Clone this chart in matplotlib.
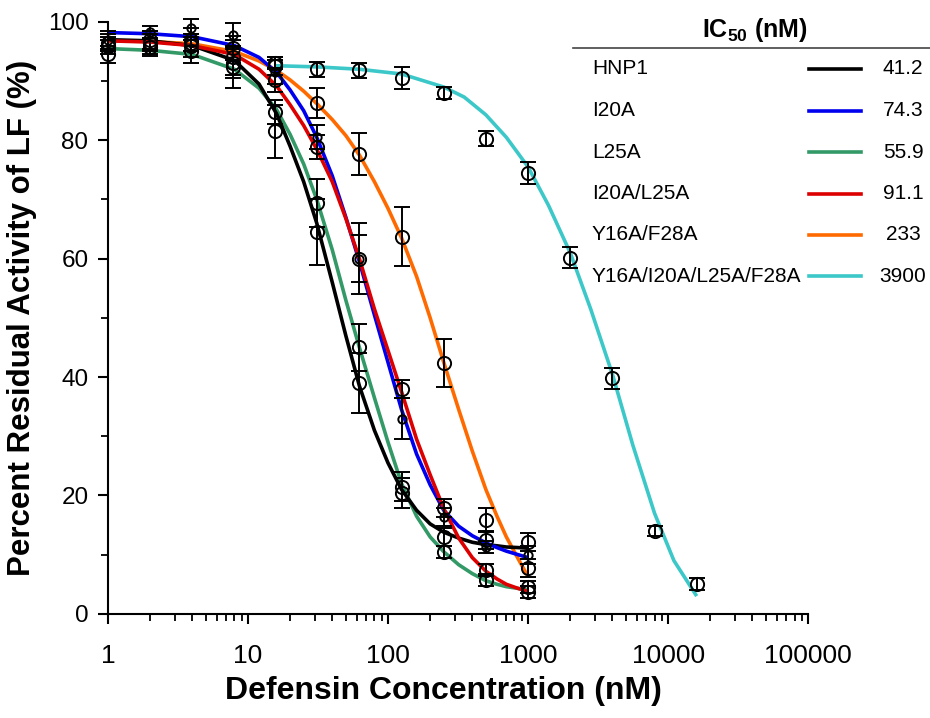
import matplotlib
matplotlib.use('Agg')
import matplotlib.pyplot as plt
from matplotlib.lines import Line2D

plt.rcParams['font.family'] = ['Liberation Sans', 'DejaVu Sans']
plt.rcParams['mathtext.fontset'] = 'custom'
plt.rcParams['mathtext.rm'] = 'Liberation Sans'
plt.rcParams['mathtext.bf'] = 'Liberation Sans:bold'

# series names, IC50 values and colours
names = ['HNP1', 'I20A', 'L25A', 'I20A/L25A', 'Y16A/F28A', 'Y16A/I20A/L25A/F28A']
ic50 = ['41.2', '74.3', '55.9', '91.1', '233', '3900']
colors = ['#000000', '#0000ee', '#339966', '#dd0000', '#ff6a00', '#3cc8c8']

# measured points (nM)
conc = [1, 2, 3.9, 7.8, 15.6, 31.25, 62.5, 125, 250, 500, 1000]
conc_quad = [15.6, 31.25, 62.5, 125, 250, 500, 1000, 2000, 4000, 8000, 16000]

hnp1_mean = [96, 96.5, 96, 93, 81.5, 64.5, 39, 21.5, 13, 12.5, 12.2]
hnp1_sd = [1.5, 2, 2, 2.5, 4.5, 5.5, 5, 2.5, 1.5, 1.5, 1.5]
i20a_mean = [97, 98.3, 99, 97.8, 91.5, 80.6, 60, 33, 16.4, 11.3, 10]
i20a_sd = [1.5, 1, 1.5, 2, 2, 2, 6, 3.5, 1.5, 1, 1.5]
l25a_mean = [94.5, 95.8, 95, 92.4, 84.8, 69.4, 45, 20.4, 10.5, 5.7, 4.6]
l25a_sd = [1.5, 1.5, 2, 3.5, 2, 4, 4, 2.5, 1, 1, 1]
dbl_mean = [96.5, 97, 96.5, 95.6, 90.2, 78.9, 60, 38, 17.9, 7.4, 3.7]
dbl_sd = [1.5, 1.5, 1.5, 2, 2, 2, 4, 1.5, 1.5, 1, 1]
y16_mean = [96, 96.5, 97, 94, 92.5, 86.3, 77.7, 63.7, 42.4, 15.9, 7.8]
y16_sd = [1, 1.5, 2, 3, 1.5, 2.5, 3.5, 5, 4, 2, 1.5]
quad_mean = [93, 92, 91.8, 90.5, 88, 80.3, 74.5, 60.2, 39.8, 14, 5]
quad_sd = [1, 1.3, 1.2, 1.8, 1, 1.2, 1.8, 1.8, 1.8, 0.8, 1]

# fitted curves
curve_x = [1, 2, 4, 8, 12, 16, 20, 25, 31, 40, 50, 62.5, 80, 100, 125, 160,
           200, 250, 320, 400, 500, 600, 700, 850, 1000]
hnp1_fit = [97, 96.8, 96, 93.5, 89.5, 84.5, 79, 73, 66, 56, 47, 38.5, 31, 25.5,
            21, 17.5, 15.2, 13.8, 12.8, 12.1, 11.7, 11.5, 11.3, 11.2, 11.1]
i20a_fit = [98.2, 98, 97.5, 96, 94, 91.5, 88.5, 85, 80.5, 74, 67, 59.5, 50.5,
            42.5, 34.5, 27, 21.8, 17.5, 14.8, 13.2, 12, 11.2, 10.6, 10, 9.5]
l25a_fit = [95.5, 95.2, 94.5, 92, 88.8, 85.2, 81, 76, 70, 61.5, 53, 45, 36.5,
            29, 22, 16.5, 13, 10.5, 8.3, 6.8, 5.6, 5, 4.6, 4.3, 4]
dbl_fit = [96.8, 96.6, 96, 94.5, 92, 89.2, 86, 82.5, 78.5, 73, 66.8, 60, 51.5,
           44.5, 37.5, 29.5, 23.5, 17.8, 12.8, 9.5, 7.2, 5.9, 5, 4.3, 3.8]
y16_fit = [96.8, 96.7, 96.3, 95, 93.4, 91.8, 90.2, 88.3, 86.2, 83.5, 80.8, 77.5,
           73, 68.5, 63.5, 57, 50, 42.5, 34.5, 27.5, 21, 16.5, 13, 9.3, 6.3]
quad_x = [15.6, 31.25, 62.5, 125, 250, 350, 500, 700, 1000, 1400, 2000, 2800,
          4000, 5600, 8000, 11000, 16000]
quad_fit = [92.6, 92.4, 92, 91.2, 89, 87.3, 84.3, 80.5, 75.5, 69, 61, 51.5,
            40.5, 28.5, 17, 9, 3]

fits = [(curve_x, hnp1_fit), (curve_x, i20a_fit), (curve_x, l25a_fit),
        (curve_x, dbl_fit), (curve_x, y16_fit), (quad_x, quad_fit)]
points = [(conc, hnp1_mean, hnp1_sd), (conc, i20a_mean, i20a_sd),
          (conc, l25a_mean, l25a_sd), (conc, dbl_mean, dbl_sd),
          (conc, y16_mean, y16_sd), (conc_quad, quad_mean, quad_sd)]
marker_sizes = [9.5, 6, 9.5, 9.5, 9.5, 9.5]

fig = plt.figure(figsize=(9.3, 7.18), dpi=100)
ax = fig.add_axes([0.116, 0.145, 0.753, 0.8245])

# curves first, draw order roughly as in the figure
for i in [5, 4, 2, 0, 1, 3]:
    x, y = fits[i]
    ax.plot(x, y, color=colors[i], lw=2.6, solid_capstyle='butt',
            solid_joinstyle='round', zorder=2)

# black open circles with error bars on top
for (x, m, s), ms in zip(points, marker_sizes):
    ax.errorbar(x, m, yerr=s, fmt='o', mfc='none', mec='black', mew=1.4,
                ms=ms, ecolor='black', elinewidth=1.4, capsize=5.5,
                capthick=1.4, zorder=3, clip_on=False)

ax.set_xscale('log')
ax.set_xlim(1, 100000)
ax.set_ylim(0, 100)
ax.set_yticks(range(0, 101, 20))
ax.set_yticks(range(10, 100, 20), minor=True)
ax.set_xticks([1, 10, 100, 1000, 10000, 100000])
ax.set_xticklabels(['1', '10', '100', '1000', '10000', '100000'], fontsize=19)
ax.tick_params(axis='y', labelsize=17.5)
for sp in ['top', 'right']:
    ax.spines[sp].set_visible(False)
for sp in ['left', 'bottom']:
    ax.spines[sp].set_linewidth(1.5)
ax.tick_params(which='major', direction='out', length=7, width=1.5, pad=7)
ax.tick_params(which='minor', direction='out', length=5, width=1.3)
ax.tick_params(axis='x', which='major', pad=15)

ax.set_xlabel('Defensin Concentration (nM)', fontsize=23,
              fontweight='bold', labelpad=4)
ax.xaxis.set_label_coords(0.479, -0.105)
ax.set_ylabel('Percent Residual Activity of LF (%)', fontsize=22.5,
              fontweight='bold', labelpad=8)

# IC50 table in the upper right
W, H = 930, 718
fig.text(755 / W, 1 - 30 / H, r'IC$_{\mathbf{50}}$ (nM)', fontsize=18,
         fontweight='bold', ha='center', va='center')
fig.add_artist(Line2D([573 / W, 1.0], [1 - 48 / H] * 2, color='#444444', lw=1.2))
for k, (name, val, col) in enumerate(zip(names, ic50, colors)):
    yy = 1 - (69 + 41.5 * k) / H
    fig.text(592 / W, yy, name, fontsize=15, ha='left', va='center')
    fig.add_artist(Line2D([809 / W, 861 / W], [yy, yy], color=col, lw=2.6))
    fig.text(903 / W, yy, val, fontsize=15, ha='center', va='center')

fig.savefig('out.png', dpi=100)
